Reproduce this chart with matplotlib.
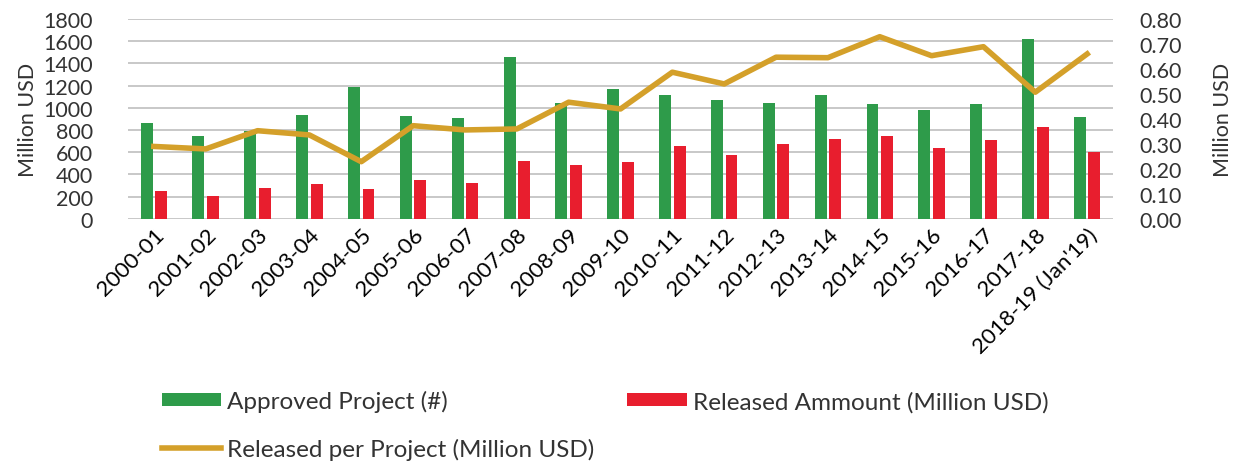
import numpy as np
import matplotlib.pyplot as plt

years = ["2000-01", "2001-02", "2002-03", "2003-04", "2004-05", "2005-06", "2006-07",
         "2007-08", "2008-09", "2009-10", "2010-11", "2011-12", "2012-13", "2013-14",
         "2014-15", "2015-16", "2016-17", "2017-18", "2018-19 (Jan'19)"]
approved = [867, 747, 795, 939, 1191, 930, 909, 1461, 1041, 1170,
            1116, 1074, 1044, 1113, 1035, 984, 1035, 1623, 915]
released = [249, 207, 279, 315, 273, 348, 321, 519, 483, 513,
            657, 576, 675, 717, 747, 639, 714, 828, 603]
per_project = [0.29, 0.28, 0.353, 0.336, 0.229, 0.373, 0.356, 0.36, 0.467, 0.44,
               0.587, 0.54, 0.647, 0.645, 0.729, 0.653, 0.689, 0.507, 0.66]

green = "#2e9b4a"
red = "#e81e2e"
gold = "#d4a02a"
txt = "#333333"

plt.rcParams['font.family'] = ['Lato', 'DejaVu Sans']

fig = plt.figure(figsize=(12.47, 4.64), dpi=100)
ax = fig.add_axes([0.1026, 0.526, 0.79, 0.431])
x = np.arange(len(years))
w = 0.23
b1 = ax.bar(x - 0.14, approved, w, color=green, label="Approved Project (#)", zorder=3)
b2 = ax.bar(x + 0.14, released, w, color=red, label="Released Ammount (Million USD)", zorder=3)
ax.set_ylim(0, 1800)
ax.set_yticks(range(0, 1801, 200))
ax.set_xlim(-0.5, len(years) - 0.5)
ax.grid(axis='y', color='#bfbfbf', linewidth=1.2, zorder=0)
for s in ax.spines.values():
    s.set_visible(False)
ax.tick_params(axis='y', length=0, labelsize=15.5, colors=txt, pad=25)
ax.tick_params(axis='x', length=0, pad=4)
ax.set_xticks(x)
ax.set_xticklabels(years, rotation=45, ha='right', rotation_mode='anchor',
                   fontsize=16, color='black')
ax.set_ylabel("Million USD", fontsize=15.5, color=txt, labelpad=4)

ax2 = ax.twinx()
l1, = ax2.plot(x, per_project, color=gold, linewidth=4, label="Released per Project (Million USD)", zorder=4)
ax2.set_ylim(0, 0.8)
ax2.set_yticks(np.arange(0, 0.81, 0.1))
ax2.set_yticklabels(["%.2f" % v for v in np.arange(0, 0.81, 0.1)])
for s in ax2.spines.values():
    s.set_visible(False)
ax2.tick_params(axis='y', length=0, labelsize=15.5, colors=txt, pad=19)
ax2.set_ylabel("Million USD", fontsize=15.5, color=txt, labelpad=22)

leg = fig.legend([b1, l1, b2], [b1.get_label(), l1.get_label(), b2.get_label()],
                 ncol=2, loc='upper left', bbox_to_anchor=(0.112, 0.204), frameon=False,
                 fontsize=17.5, handlelength=2.45, handleheight=0.45, columnspacing=1.35,
                 labelspacing=1.05, handletextpad=0.25)
for t in leg.get_texts():
    t.set_color(txt)

fig.savefig("out.png")
